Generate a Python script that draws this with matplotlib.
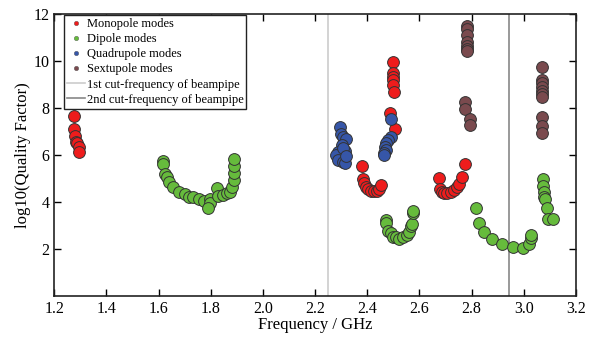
import numpy as np
import matplotlib
matplotlib.use('Agg')
import matplotlib.pyplot as plt
from matplotlib.lines import Line2D

plt.rcParams['font.family'] = ['Liberation Serif', 'DejaVu Serif']

# monopole modes
mono_f = [1.277, 1.278, 1.281, 1.285, 1.288, 1.294, 1.294,
          2.379, 2.384, 2.388, 2.395, 2.404, 2.415, 2.426, 2.436, 2.445, 2.453,
          2.487, 2.505, 2.498, 2.500, 2.499, 2.499, 2.498, 2.501,
          2.675, 2.679, 2.685, 2.695, 2.707, 2.720, 2.733, 2.743, 2.753, 2.763, 2.774]
mono_q = [7.67, 7.09, 6.81, 6.55, 6.50, 6.35, 6.14,
          5.53, 4.98, 4.79, 4.65, 4.54, 4.48, 4.45, 4.48, 4.54, 4.74,
          7.77, 7.09, 9.97, 9.50, 9.33, 9.19, 8.98, 8.69,
          5.01, 4.54, 4.44, 4.40, 4.37, 4.44, 4.51, 4.63, 4.77, 5.05, 5.62]

# dipole modes
di_f = [1.619, 1.619, 1.625, 1.633, 1.642, 1.656, 1.678, 1.702, 1.716, 1.733, 1.756,
        1.775, 1.798, 1.797, 1.790,
        1.823, 1.828, 1.848, 1.863, 1.874, 1.882, 1.888, 1.888, 1.888, 1.888,
        2.472, 2.473, 2.481, 2.490, 2.500, 2.510, 2.523, 2.538, 2.551, 2.560, 2.567,
        2.570, 2.574, 2.574,
        2.817, 2.830, 2.849, 2.877, 2.915, 2.957, 2.998, 3.021, 3.026, 3.026,
        3.075, 3.075, 3.077, 3.077, 3.081, 3.088, 3.093, 3.113]
di_q = [5.76, 5.62, 5.18, 5.08, 4.84, 4.65, 4.44, 4.34, 4.20, 4.23, 4.11,
        4.05, 4.11, 3.97, 3.73,
        4.58, 4.26, 4.30, 4.37, 4.44, 4.65, 4.94, 5.22, 5.53, 5.84,
        3.23, 3.12, 2.78, 2.67, 2.52, 2.50, 2.41, 2.50, 2.60, 2.74, 2.98,
        3.06, 3.55, 3.63,
        3.73, 3.12, 2.74, 2.43, 2.21, 2.10, 2.06, 2.20, 2.46, 2.60,
        4.97, 4.68, 4.44, 4.20, 4.11, 3.73, 3.26, 3.28]

# quadrupole modes
quad_f = [2.296, 2.298, 2.307, 2.318, 2.303, 2.315, 2.288, 2.280, 2.288, 2.307,
          2.315, 2.308, 2.319,
          2.490, 2.491, 2.480, 2.472, 2.468, 2.472, 2.464, 2.466]
quad_q = [7.20, 6.89, 6.78, 6.67, 6.43, 6.18, 6.14, 6.00, 5.79, 5.72,
          5.67, 6.28, 5.96,
          7.52, 6.78, 6.64, 6.50, 6.35, 6.21, 6.07, 5.98]

# sextupole modes
sext_f = [2.783, 2.783, 2.783, 2.783, 2.783, 2.783, 2.783,
          2.775, 2.775, 2.794, 2.794,
          3.071, 3.071, 3.071, 3.071, 3.071, 3.071, 3.071,
          3.069, 3.069, 3.069]
sext_q = [11.49, 11.35, 11.10, 10.82, 10.64, 10.50, 10.40,
          8.27, 7.94, 7.52, 7.28,
          9.72, 9.19, 9.05, 8.88, 8.74, 8.58, 8.48,
          7.60, 7.23, 6.95]

cut1 = 2.25
cut2 = 2.942

col_mono = '#ee1c1c'
col_di = '#66bb3c'
col_quad = '#3656a8'
col_sext = '#7a4a4e'

fig = plt.figure(figsize=(5.95, 3.38), dpi=100)
ax = fig.add_axes([0.091, 0.124, 0.877, 0.835])

ax.axvline(cut1, color='#cccccc', lw=1.2, zorder=1)
ax.axvline(cut2, color='#888888', lw=1.2, zorder=1)

ms = 72
ec = '#333333'
ax.scatter(mono_f, mono_q, s=ms, c=col_mono, edgecolors=ec, linewidths=0.7, zorder=3)
ax.scatter(di_f, di_q, s=ms, c=col_di, edgecolors=ec, linewidths=0.7, zorder=3)
ax.scatter(quad_f, quad_q, s=ms, c=col_quad, edgecolors=ec, linewidths=0.7, zorder=3)
ax.scatter(sext_f, sext_q, s=ms, c=col_sext, edgecolors=ec, linewidths=0.7, zorder=3)

ax.set_xlim(1.2, 3.2)
ax.set_ylim(0, 12)
ax.set_xticks(np.arange(1.2, 3.21, 0.2))
ax.set_xticklabels(['%.1f' % v for v in np.arange(1.2, 3.21, 0.2)])
ax.set_yticks([2, 4, 6, 8, 10, 12])
ax.tick_params(direction='in', top=True, right=True, length=5, width=1, labelsize=11.5)
for sp in ax.spines.values():
    sp.set_linewidth(1.2)
    sp.set_color('#222222')

ax.set_xlabel('Frequency / GHz', fontsize=12, labelpad=0)
ax.set_ylabel('log10(Quality Factor)', fontsize=12, labelpad=2)

# legend with small dots like the original
def dot(c):
    return Line2D([], [], ls='none', marker='o', markersize=3.2, markerfacecolor=c,
                  markeredgecolor='#555555', markeredgewidth=0.3)

handles = [dot(col_mono), dot(col_di), dot(col_quad), dot(col_sext),
           Line2D([], [], color='#cccccc', lw=1.2),
           Line2D([], [], color='#888888', lw=1.2)]
labels = ['Monopole modes', 'Dipole modes', 'Quadrupole modes', 'Sextupole modes',
          '1st cut-frequency of beampipe', '2nd cut-frequency of beampipe']
leg = ax.legend(handles, labels, loc='upper left', bbox_to_anchor=(0.019, 0.996),
                fontsize=9, frameon=True,
                fancybox=False, edgecolor='#222222', framealpha=1,
                borderaxespad=0, labelspacing=0.25, handlelength=1.4,
                handletextpad=0.15, borderpad=0.25)
leg.get_frame().set_linewidth(1.0)

plt.savefig('out.png', dpi=100)
